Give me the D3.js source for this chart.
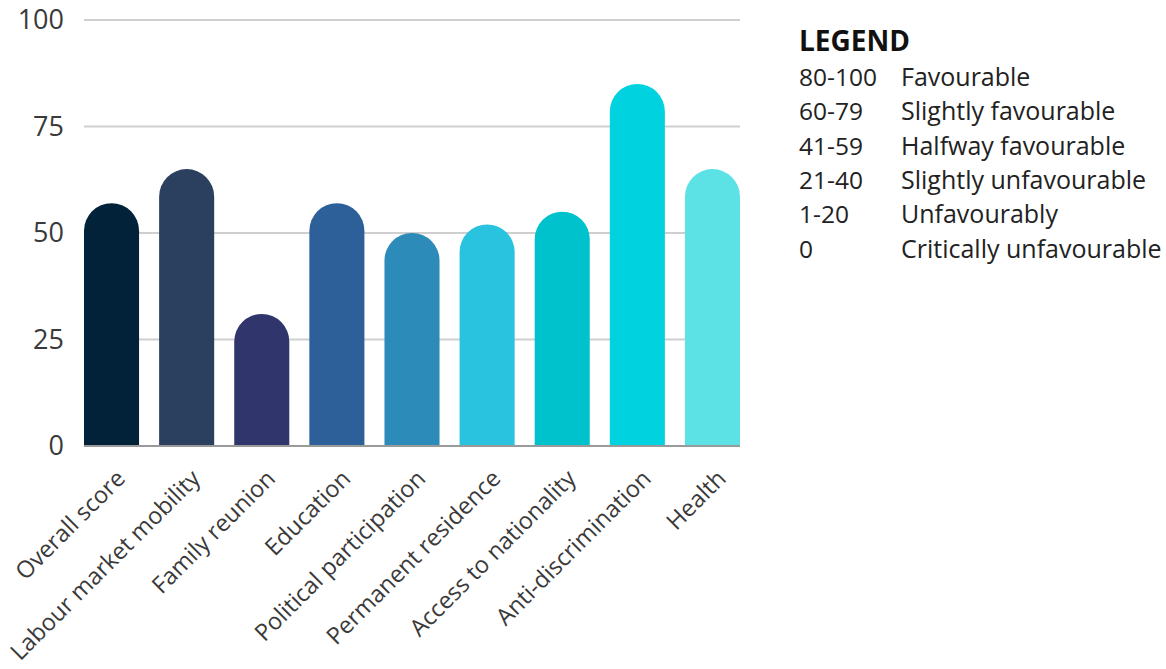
<!DOCTYPE html>
<html>
<head>
<meta charset="utf-8">
<script src="https://cdn.jsdelivr.net/npm/d3@7"></script>
<style>
  body { margin: 0; background: #fff; }
  svg { display: block; font-family: "Open Sans", sans-serif; }
</style>
</head>
<body>
<div id="chart"></div>
<script>
// data
var categories = ["Overall score", "Labour market mobility", "Family reunion", "Education",
  "Political participation", "Permanent residence", "Access to nationality",
  "Anti-discrimination", "Health"];
var scores = [57, 65, 31, 57, 50, 52, 55, 85, 65];
var barColors = ["#02223a", "#2b3f5f", "#30356c", "#2d5f99", "#2d8bb9",
  "#29c3e0", "#00c2cd", "#00d3df", "#5ce1e5"];
var yTicks = [0, 25, 50, 75, 100];
var legendRanges = ["80-100", "60-79", "41-59", "21-40", "1-20", "0"];
var legendLabels = ["Favourable", "Slightly favourable", "Halfway favourable",
  "Slightly unfavourable", "Unfavourably", "Critically unfavourable"];

const W = 1166, H = 669;
const plot = {left: 84, right: 740, top: 20, bottom: 446};

var svg = d3.select("#chart").append("svg")
    .attr("width", W)
    .attr("height", H);

var xScale = d3.scaleBand()
    .domain(categories)
    .range([plot.left, plot.right])
    .paddingInner(0.267)
    .paddingOuter(0);

var yScale = d3.scaleLinear()
    .domain([0, 100])
    .range([plot.bottom, plot.top]);

// gridlines
svg.append("g")
  .selectAll("line")
  .data(yTicks.filter(d => d > 0))
  .enter().append("line")
    .attr("x1", plot.left)
    .attr("x2", plot.right)
    .attr("y1", d => yScale(d))
    .attr("y2", d => yScale(d))
    .style("stroke", "#cfcfcf")
    .style("stroke-width", 2);

// y axis labels
var yAxis = d3.axisLeft(yScale).tickValues(yTicks).tickSize(0).tickPadding(20);
svg.append("g")
    .attr("transform", `translate(${plot.left},0)`)
    .call(yAxis)
    .call(g => g.select(".domain").remove())
    .selectAll("text")
      .style("font-family", "Open Sans, sans-serif")
      .style("font-size", "27px")
      .style("fill", "#3a3a3a");

// bars with a rounded top
function barPath(d, i) {
  var x0 = xScale(categories[i]);
  var w = xScale.bandwidth();
  var r = w / 2;
  var yTop = yScale(d);
  var y0 = yScale(0);
  return "M" + x0 + "," + y0 +
    "V" + (yTop + r) +
    "A" + r + "," + r + " 0 0 1 " + (x0 + w) + "," + (yTop + r) +
    "V" + y0 + "Z";
}

svg.append("g")
  .selectAll("path")
  .data(scores)
  .enter().append("path")
    .attr("d", barPath)
    .style("fill", (d, i) => barColors[i]);

// baseline
svg.append("line")
    .attr("x1", plot.left)
    .attr("x2", plot.right)
    .attr("y1", yScale(0))
    .attr("y2", yScale(0))
    .style("stroke", "#9a9a9a")
    .style("stroke-width", 2);

// x labels, rotated
svg.append("g")
  .selectAll("text")
  .data(categories)
  .enter().append("text")
    .attr("transform", d => "translate(" + (xScale(d) + xScale.bandwidth() / 2 + 15) + "," + 480 + ") rotate(-45)")
    .style("text-anchor", "end")
    .style("font-size", "23.5px")
    .style("fill", "#3a3a3a")
    .text(d => d);

// legend
var legend = svg.append("g").attr("transform", "translate(799,0)");
legend.append("text")
    .attr("x", 0)
    .attr("y", 51)
    .style("font-size", "28px")
    .style("font-weight", 700)
    .style("fill", "#111")
    .text("LEGEND");

legend.selectAll(".range")
  .data(legendRanges)
  .enter().append("text")
    .attr("class", "range")
    .attr("x", 0)
    .attr("y", (d, i) => 86 + i * 34.3)
    .style("font-size", "24.5px")
    .style("fill", "#222")
    .text(d => d);

legend.selectAll(".desc")
  .data(legendLabels)
  .enter().append("text")
    .attr("class", "desc")
    .attr("x", 102)
    .attr("y", (d, i) => 86 + i * 34.3)
    .style("font-size", "25px")
    .style("fill", "#222")
    .text(d => d);
</script>
</body>
</html>
